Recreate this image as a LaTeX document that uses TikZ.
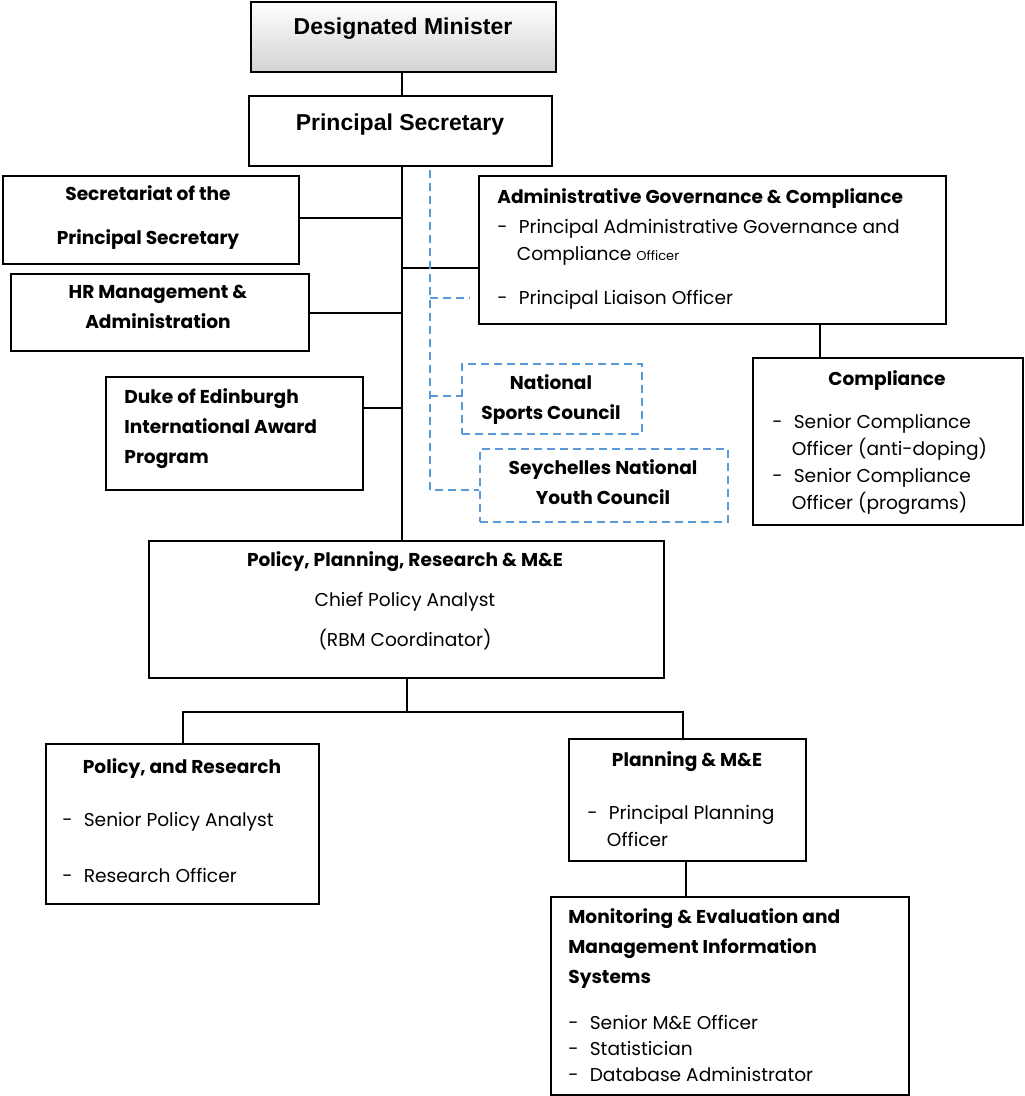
\documentclass[tikz,border=0pt]{standalone}
\usepackage{fontspec}
\setmainfont{Poppins}
\newfontfamily\hdfont{Liberation Sans}
\usetikzlibrary{positioning}
\definecolor{dashblue}{RGB}{90,155,215}
\tikzset{
  box/.style={draw,line width=1pt,anchor=north west,inner sep=0pt},
  dbox/.style={draw=dashblue,dash pattern=on 4pt off 2.5pt,line width=1pt,anchor=north west,inner sep=0pt},
  txt/.style={anchor=north west,align=left,inner sep=0pt,font=\fontsize{9.3}{13.5}\selectfont},
  ttl/.style={anchor=north,align=center,inner sep=0pt,font=\fontsize{9.3}{15}\selectfont\bfseries},
  link/.style={line width=1.2pt},
  blink/.style={line width=1.2pt,dash pattern=on 4pt off 2.5pt,draw=dashblue},
}
\begin{document}
\begin{tikzpicture}[x=0.5pt,y=-0.5pt]
\useasboundingbox (0,0) rectangle (1024,1096);
% boxes
\node[box,minimum width=152.5pt,minimum height=35pt,top color=white,bottom color=gray!35,shading angle=0] (dm) at (250,1) {};
\node[box,minimum width=151.5pt,minimum height=35pt] (ps) at (248,95) {};
\node[box,minimum width=148pt,minimum height=44pt] (sec) at (2,175) {};
\node[box,minimum width=149pt,minimum height=38.5pt] (hr) at (10,273) {};
\node[box,minimum width=128.5pt,minimum height=56.5pt] (duke) at (105,376) {};
\node[box,minimum width=233.5pt,minimum height=74pt] (agc) at (478,175) {};
\node[box,minimum width=135pt,minimum height=83.5pt] (comp) at (752,357) {};
\node[dbox,minimum width=90pt,minimum height=35pt] (nsc) at (461,363) {};
\node[dbox,minimum width=124pt,minimum height=36.5pt] (snyc) at (479,448) {};
\node[box,minimum width=257.5pt,minimum height=68.5pt] (ppr) at (148,540) {};
\node[box,minimum width=136.5pt,minimum height=80pt] (pr) at (45,743) {};
\node[box,minimum width=118.5pt,minimum height=61pt] (pme) at (568,738) {};
\node[box,minimum width=179pt,minimum height=99pt] (mis) at (550,896) {};
% texts
\node[anchor=center,font=\hdfont\fontsize{11.5}{13}\selectfont\bfseries] (tdm) at (403,29) {Designated Minister};
\node[anchor=center,font=\hdfont\fontsize{11.5}{13}\selectfont\bfseries] (tps) at (400,125) {Principal Secretary};
\node[ttl,font=\fontsize{9.3}{22}\selectfont\bfseries] (tsec) at (148,185) {Secretariat of the\\Principal Secretary};
\node[ttl] (thr) at (158,285) {HR Management \&\\Administration};
\node[txt,font=\fontsize{9.3}{15}\selectfont\bfseries] (tduke) at (124,388) {Duke of Edinburgh\\International Award\\Program};
\node[txt,font=\fontsize{9.3}{15}\selectfont\bfseries] (tagc) at (497,188) {Administrative Governance \& Compliance};
\node[txt] (tagc1) at (497,219) {-\hspace{0.6em}Principal Administrative Governance and\\\hspace{1.05em}Compliance {\fontsize{6.5}{8}\selectfont Officer}};
\node[txt] (tagc2) at (497,290) {-\hspace{0.6em}Principal Liaison Officer};
\node[ttl] (tcomp) at (887,370) {Compliance};
\node[txt] (tcomp1) at (772,414) {-\hspace{0.6em}Senior Compliance\\\hspace{1.05em}Officer (anti-doping)\\-\hspace{0.6em}Senior Compliance\\\hspace{1.05em}Officer (programs)};
\node[ttl] (tnsc) at (551,374) {National\\Sports Council};
\node[ttl] (tsnyc) at (603,459) {Seychelles National\\Youth Council};
\node[ttl,font=\fontsize{9.3}{20}\selectfont] (tppr) at (405,551) {\textbf{Policy, Planning, Research \& M\&E}\\Chief Policy Analyst\\(RBM Coordinator)};
\node[ttl] (tpr) at (182,758) {Policy, and Research};
\node[txt,font=\fontsize{9.3}{28}\selectfont] (tpr1) at (62,812) {-\hspace{0.6em}Senior Policy Analyst\\-\hspace{0.6em}Research Officer};
\node[ttl] (tpme) at (687,751) {Planning \& M\&E};
\node[txt] (tpme1) at (587,805) {-\hspace{0.6em}Principal Planning\\\hspace{1.05em}Officer};
\node[txt,font=\fontsize{9.3}{15}\selectfont\bfseries] (tmis) at (568,908) {Monitoring \& Evaluation and\\Management Information\\Systems};
\node[txt,font=\fontsize{9.3}{13}\selectfont] (tmis1) at (568,1015) {-\hspace{0.6em}Senior M\&E Officer\\-\hspace{0.6em}Statistician\\-\hspace{0.6em}Database Administrator};
% connectors
\coordinate (top) at (402,165);
\coordinate (spine) at (402,540);
\coordinate (jsec) at (402,218);
\coordinate (jhr) at (402,313);
\coordinate (jduke) at (402,408);
\coordinate (jagc) at (402,268);
\coordinate (jp) at (407,712);
\coordinate (jc) at (820,357);
\draw[link] (dm.south -| top) -- (ps.north -| top);
\draw[link] (top) -- (spine);
\draw[link] (sec.east |- jsec) -- (jsec);
\draw[link] (hr.east |- jhr) -- (jhr);
\draw[link] (duke.east |- jduke) -- (jduke);
\draw[link] (jagc) -- (agc.west |- jagc);
\draw[link] (agc.south -| jc) -- (jc);
\draw[link] (ppr.south -| jp) -- (jp);
\draw[link] (pr.north -| 183,0) |- (jp) -| (pme.north -| 683,0);
\draw[link] (pme.south -| 686,0) -- (mis.north -| 686,0);
% dashed links
\coordinate (b0) at (430,170);
\coordinate (b1) at (430,490);
\draw[blink] (b0) -- (b1) -- (snyc.west |- b1);
\draw[blink] (b0 |- 0,298) -- (470,298);
\draw[blink] (b0 |- 0,396) -- (nsc.west |- 0,396);
\end{tikzpicture}
\end{document}
